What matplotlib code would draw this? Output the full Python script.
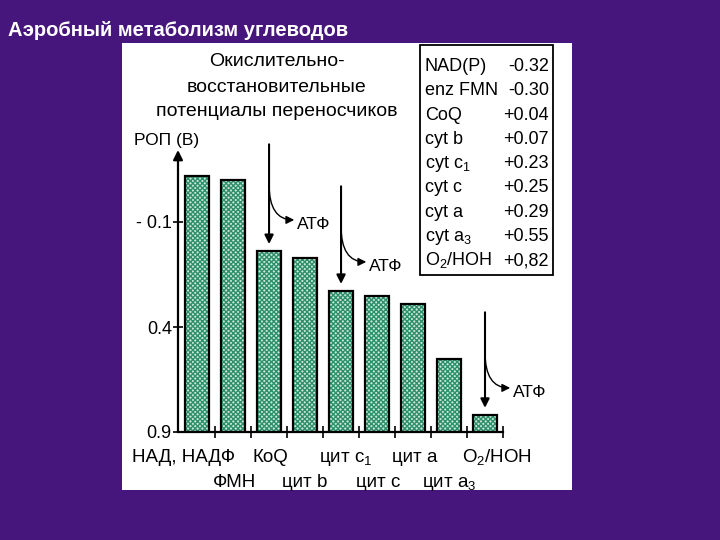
import matplotlib
matplotlib.use("Agg")
import matplotlib.pyplot as plt
from matplotlib.patches import Rectangle

plt.rcParams['font.family'] = ['Liberation Sans', 'DejaVu Sans']
plt.rcParams['mathtext.fontset'] = 'custom'
plt.rcParams['mathtext.rm'] = 'Liberation Sans'
plt.rcParams['mathtext.it'] = 'Liberation Sans'
plt.rcParams['hatch.linewidth'] = 1.0

# ---- data ----
carriers = ['НАД, НАДФ', 'ФМН', 'КоQ', 'цит b', 'цит c$_1$', 'цит c', 'цит a', 'цит a$_3$', 'O$_2$/НОН']
potentials = [-0.32, -0.30, 0.04, 0.07, 0.23, 0.25, 0.29, 0.55, 0.82]
table_names = ['NAD(P)', 'enz FMN', 'CoQ', 'cyt b', 'cyt c$_1$', 'cyt c', 'cyt a', 'cyt a$_3$', 'O$_2$/HOH']
table_values = ['-0.32', '-0.30', '+0.04', '+0.07', '+0.23', '+0.25', '+0.29', '+0.55', '+0,82']
yticks = [-0.1, 0.4, 0.9]
ytick_labels = ['- 0.1', '0.4', '0.9']
atp_sites = [2, 4, 8]              # bars under the ATP arrows
atp_starts = [-0.47, -0.27, 0.33]  # where each arrow begins
base = 0.9

W, H = 720, 540
fig = plt.figure(figsize=(W / 100, H / 100), dpi=100)
fig.patch.set_facecolor('#46167c')


def fx(x):
    return x / W


def fy(y):
    return 1 - y / H


# white panel
fig.add_artist(Rectangle((fx(122), fy(490)), 450 / W, 447 / H, transform=fig.transFigure,
                         facecolor='white', edgecolor='none', zorder=0))

# title on the slide
fig.text(fx(8), fy(31), 'Аэробный метаболизм углеводов', color='white', fontsize=14.5,
         fontweight='bold', ha='left', va='center')

# main axes
ax = fig.add_axes([fx(178), fy(432), (503 - 178) / W, (432 - 150) / H])
ax.set_facecolor('none')
ax.set_xlim(-0.53, 8.5)
ax.set_ylim(base, base - (432 - 150) / 210)

xs = list(range(len(potentials)))
heights = [base - v for v in potentials]
ax.bar(xs, heights, bottom=potentials, width=0.68, facecolor='#c6e8d8',
       edgecolor='#2e8f6b', hatch='xxxxxxx', linewidth=0, zorder=2)
ax.bar(xs, heights, bottom=potentials, width=0.68, fill=False,
       edgecolor='black', linewidth=1.6, zorder=3)

for s in ['top', 'right', 'left']:
    ax.spines[s].set_visible(False)
ax.spines['bottom'].set_linewidth(1.6)
# y axis with arrow
ax.annotate('', xy=(0, 1.0), xytext=(0, 0), xycoords='axes fraction',
            arrowprops=dict(arrowstyle='-|>', color='black', lw=1.6, mutation_scale=14,
                            shrinkA=0, shrinkB=0))

ax.set_yticks(yticks)
ax.set_yticklabels(ytick_labels, fontsize=13)
ax.tick_params(axis='y', direction='inout', length=7, width=1.2, pad=1)
ax.set_xticks([i + 0.5 for i in xs])
ax.set_xticklabels([])
ax.tick_params(axis='x', direction='inout', length=8, width=1.2)

# ATP arrows
for site, start in zip(atp_sites, atp_starts):
    end = potentials[site] - 0.035
    ax.annotate('', xy=(site, end), xytext=(site, start),
                arrowprops=dict(arrowstyle='-|>', color='black', lw=1.5, mutation_scale=13,
                                shrinkA=0, shrinkB=0), annotation_clip=False)
    b0 = start + 0.19
    b1 = b0 + 0.17
    ax.annotate('', xy=(site + 0.7, b1), xytext=(site, b0),
                arrowprops=dict(arrowstyle='-|>', color='black', lw=1.0, mutation_scale=12,
                                shrinkA=0, shrinkB=0,
                                connectionstyle='angle3,angleA=90,angleB=0'),
                annotation_clip=False)
    ax.text(site + 0.78, b1 + 0.02, 'АТФ', fontsize=12.5, ha='left', va='center')

# carrier labels in two rows
label_shift = [-0.38, 0.05, 0.05, 0.0, 0.12, 0.03, 0.05, 0.0, 0.33]
for i, name in enumerate(carriers):
    ypix = 462 if i % 2 == 0 else 487
    ax.text(i + label_shift[i], base + (ypix - 432) / 210, name, fontsize=13.5,
            ha='center', va='baseline', clip_on=False)

# axis caption
fig.text(fx(134), fy(140), 'РОП (В)', fontsize=12.5, ha='left', va='center')

# chart heading
for j, line in enumerate(['Окислительно-', 'восстановительные', 'потенциалы переносчиков']):
    fig.text(fx(277), fy(62 + 25 * j), line, fontsize=14, ha='center', va='center')

# table of potentials
fig.add_artist(Rectangle((fx(420), fy(275)), (553 - 420) / W, (275 - 45) / H,
                         transform=fig.transFigure, fill=False, edgecolor='black', lw=1.3))
for k, (nm, val) in enumerate(zip(table_names, table_values)):
    yy = 65 + 24.3 * k + 6
    fig.text(fx(425), fy(yy), nm, fontsize=13, ha='left', va='baseline')
    fig.text(fx(549), fy(yy), val, fontsize=13, ha='right', va='baseline')

fig.savefig('out.png', dpi=100, facecolor=fig.get_facecolor())
